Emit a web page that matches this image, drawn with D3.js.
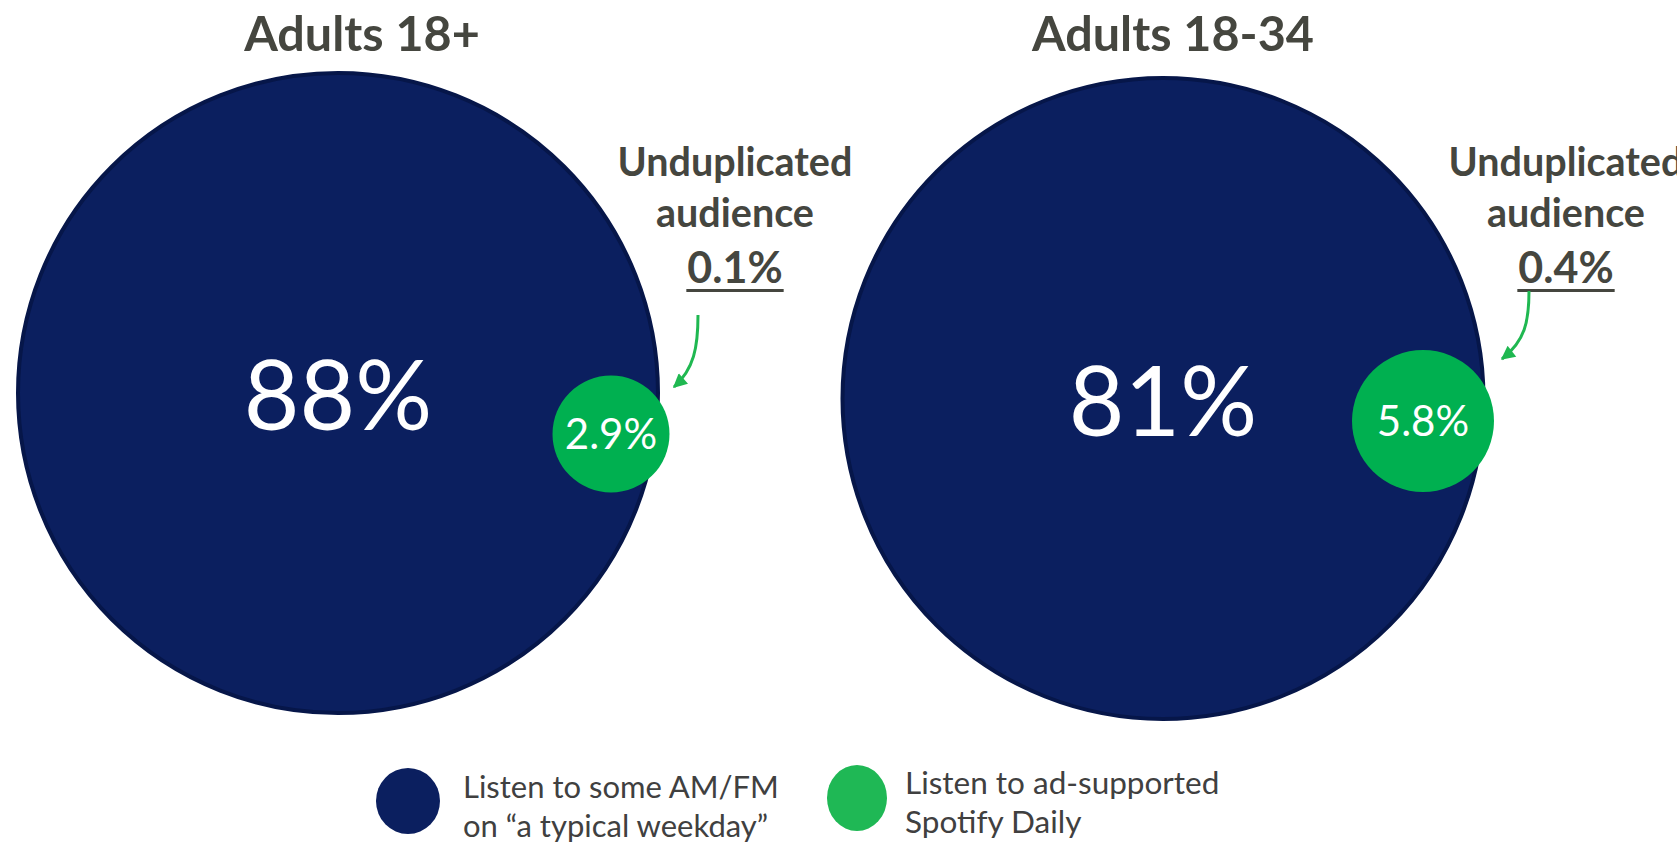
<!DOCTYPE html>
<html>
<head>
<meta charset="utf-8">
<script src="https://cdn.jsdelivr.net/npm/d3@7"></script>
<style>
  html, body { margin: 0; padding: 0; background: #ffffff; }
  svg { display: block; }
  text { font-family: Lato, "Open Sans", sans-serif; }
</style>
</head>
<body>
<svg id="chart" width="1677" height="850"></svg>
<script>
// ---- data ----
const panels = ["Adults 18+", "Adults 18-34"];
const amfmShare = [88, 81];            // Listen to some AM/FM on a typical weekday (%)
const spotifyShare = [2.9, 5.8];       // Listen to ad-supported Spotify Daily (%)
const unduplicatedShare = [0.1, 0.4];  // Unduplicated audience (%)
const annotationLines = ["Unduplicated", "audience"];
const legendSeries = ["AM/FM", "Spotify"];
const legendLabels = [
  ["Listen to some AM/FM", "on \u201Ca typical weekday\u201D"],
  ["Listen to ad-supported", "Spotify Daily"]
];

// ---- layout / style ----
const W = 1677, H = 850;
const navy = "#0b1f5f", navyStroke = "#061649";
const green = "#00b050", legendGreen = "#1fb855", arrowGreen = "#1fb851";
const textGray = "#45463f";

const svg = d3.select("#chart");

const xPanel = d3.scalePoint().domain(panels).range([338, 1163]);
const bigCy = [393, 398.5];
const rBig = d3.scaleLinear().domain([81, 88]).range([320.5, 320]);
const rSmall = d3.scaleLinear().domain([2.9, 5.8]).range([58.5, 71]);
const smallOffset = [[273, 41], [260, 22.5]];
const titleX = [362, 1173];
const annoX = [735, 1566];
const fmt = d => d3.format(".1f")(d) + "%";

const defs = svg.append("defs");
defs.append("marker")
  .attr("id", "arrowhead")
  .attr("viewBox", "0 0 10 10")
  .attr("refX", 9).attr("refY", 5)
  .attr("markerUnits", "userSpaceOnUse")
  .attr("markerWidth", 16).attr("markerHeight", 14)
  .attr("orient", "auto")
  .append("path")
  .attr("d", "M0,0 L10,5 L0,10 Z")
  .attr("fill", arrowGreen);

panels.forEach((p, i) => {
  const cx = xPanel(p), cy = bigCy[i];
  const g = svg.append("g");

  // title
  g.append("text")
    .attr("x", titleX[i]).attr("y", 51)
    .attr("text-anchor", "middle")
    .attr("font-size", 48.5).attr("font-weight", 700)
    .attr("fill", textGray)
    .text(p);

  // big circle
  g.append("circle")
    .attr("cx", cx).attr("cy", cy).attr("r", rBig(amfmShare[i]))
    .attr("fill", navy).attr("stroke", navyStroke).attr("stroke-width", 4);

  g.append("text")
    .attr("x", cx).attr("y", cy + 37)
    .attr("text-anchor", "middle")
    .attr("font-size", 96).attr("fill", "#ffffff")
    .text(d3.format("d")(amfmShare[i]) + "%");

  // small circle
  const sx = cx + smallOffset[i][0], sy = cy + smallOffset[i][1];
  g.append("circle")
    .attr("cx", sx).attr("cy", sy).attr("r", rSmall(spotifyShare[i]))
    .attr("fill", green);
  g.append("text")
    .attr("x", sx).attr("y", sy + 15)
    .attr("text-anchor", "middle")
    .attr("font-size", 42).attr("fill", "#ffffff")
    .text(fmt(spotifyShare[i]));

  // annotation
  const ax = annoX[i];
  annotationLines.forEach((line, j) => {
    g.append("text")
      .attr("x", ax).attr("y", 176 + j * 51)
      .attr("text-anchor", "middle")
      .attr("font-size", 39.5).attr("font-weight", 700)
      .attr("fill", textGray)
      .text(line);
  });
  const pct = g.append("text")
    .attr("x", ax).attr("y", 283)
    .attr("text-anchor", "middle")
    .attr("font-size", 43).attr("font-weight", 700)
    .attr("fill", textGray)
    .text(fmt(unduplicatedShare[i]));
  const bb = pct.node().getBBox();
  g.append("line")
    .attr("x1", bb.x - 1).attr("x2", bb.x + bb.width + 1)
    .attr("y1", 290.5).attr("y2", 290.5)
    .attr("stroke", textGray).attr("stroke-width", 3);

  // arrow: from under the percentage down to the small circle's edge
  const startX = ax - 37;
  const sy0 = i === 0 ? 315 : 291;
  const tipX = i === 0 ? sx + 63 : sx + 79;
  const tipY = sy - (i === 0 ? 47 : 62);
  const path = d3.path();
  path.moveTo(startX, sy0);
  path.bezierCurveTo(startX, sy0 + (tipY - sy0) * 0.45,
                     startX - 4, tipY - 18,
                     tipX, tipY);
  g.append("path")
    .attr("d", path.toString())
    .attr("fill", "none")
    .attr("stroke", arrowGreen).attr("stroke-width", 3)
    .attr("marker-end", "url(#arrowhead)");
});

// ---- legend ----
const legendColor = d3.scaleOrdinal().domain(legendSeries).range([navy, legendGreen]);
const legendX = d3.scalePoint().domain(legendSeries).range([408, 857]);
const legendCy = [801, 798];
const legendTextDx = [55, 48];
const legendBase = [798, 794];
const legendFont = [31, 31.5];

legendSeries.forEach((s, i) => {
  const lx = legendX(s);
  svg.append("ellipse")
    .attr("cx", lx).attr("cy", legendCy[i])
    .attr("rx", i === 0 ? 32 : 30).attr("ry", 33)
    .attr("fill", legendColor(s));
  legendLabels[i].forEach((line, j) => {
    svg.append("text")
      .attr("x", lx + legendTextDx[i]).attr("y", legendBase[i] + j * 39)
      .attr("font-size", legendFont[i]).attr("fill", "#404040")
      .text(line);
  });
});
</script>
</body>
</html>
